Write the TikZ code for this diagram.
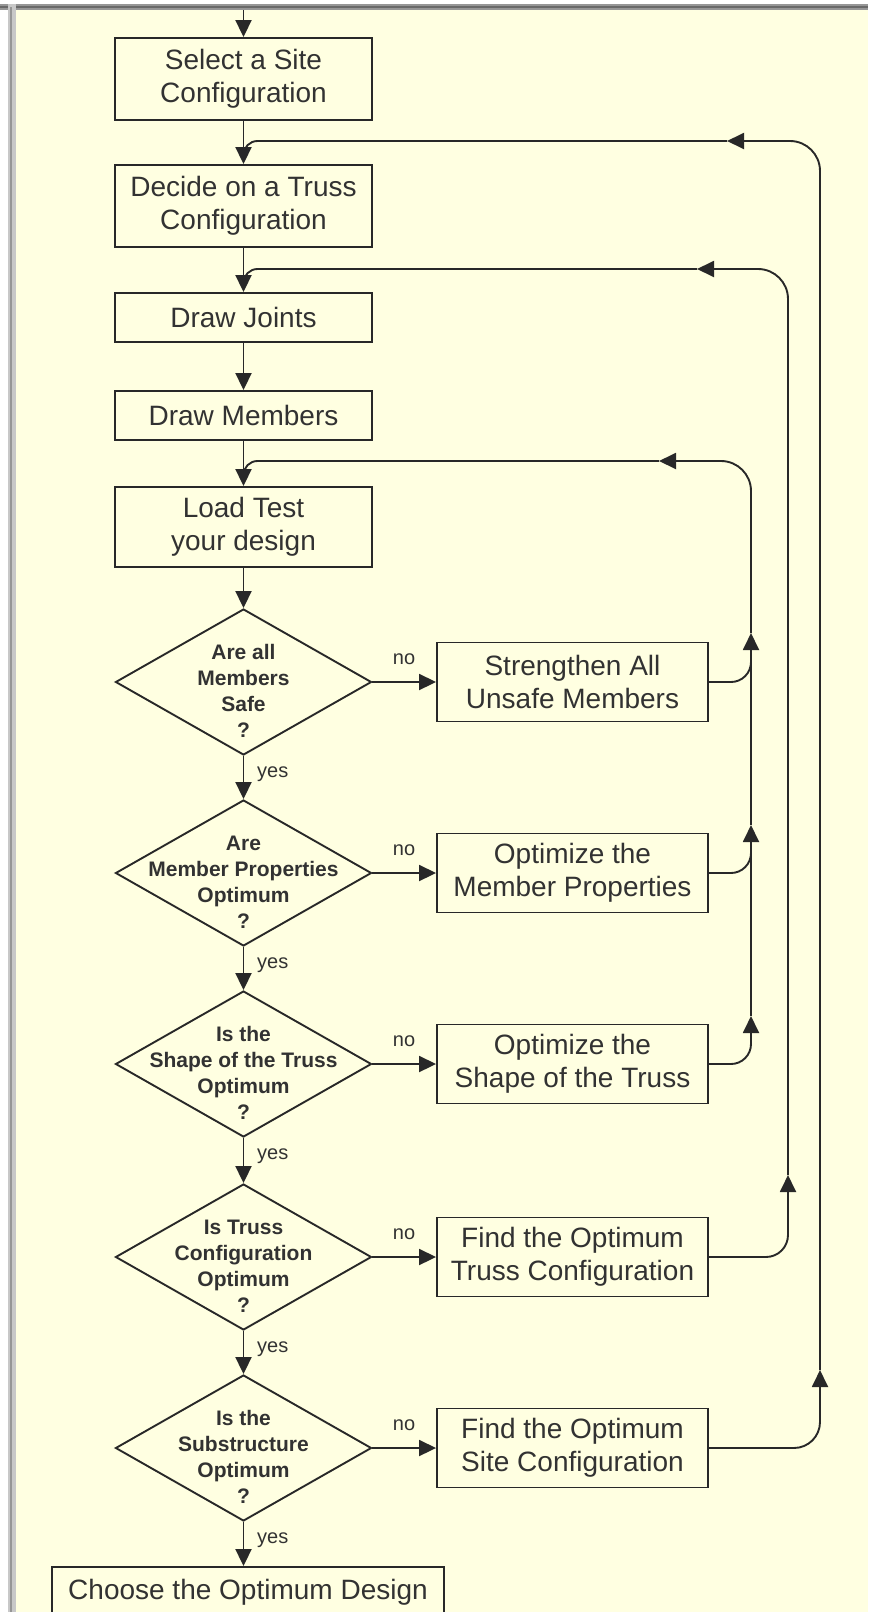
\documentclass[tikz,border=0pt]{standalone}
\usepackage{fontspec}
\setmainfont{Liberation Sans}
\usetikzlibrary{arrows.meta,shapes.geometric}
\definecolor{bg}{RGB}{255,255,225}
\definecolor{ink}{RGB}{40,40,40}
\definecolor{txt}{RGB}{50,50,50}
\definecolor{frameA}{RGB}{150,150,150}
\definecolor{frameB}{RGB}{105,105,105}
\definecolor{frameC}{RGB}{200,200,200}
\begin{document}
\begin{tikzpicture}[x=1pt,y=-1pt,
  ln/.style={draw=ink,line width=1.9pt},
  arr/.style={ln,-{Triangle[length=17pt,width=16pt]}},
  box/.style={draw=ink,line width=1.9pt,fill=bg,minimum width=257pt,inner sep=0pt,text=txt,align=center,font=\fontsize{28}{33}\selectfont},
  sbox/.style={box,minimum width=271pt,minimum height=79pt},
  dia/.style={diamond,draw=ink,line width=1.9pt,fill=bg,minimum width=256pt,minimum height=146pt,inner sep=0pt},
  dtxt/.style={align=center,text=txt,font=\bfseries\fontsize{21}{26}\selectfont,inner sep=0pt},
  lab/.style={text=txt,font=\fontsize{20}{24}\selectfont,inner sep=0pt}]
\useasboundingbox (0,0) rectangle (868,1612);
\clip (0,0) rectangle (868,1612);
\fill[white] (0,0) rectangle (868,1612);
\fill[bg] (16,10) rectangle (868,1612);
% frame
\fill[frameA] (0,4) rectangle (868,10);
\fill[frameB] (0,5.5) rectangle (868,7.5);
\fill[frameC] (8,4) rectangle (16,1612);
\fill[frameA] (10,7) rectangle (12,1612);

% main column
\coordinate (top) at (243.5,10);
\node[box,minimum height=82pt] (n1) at (243.5,79) {Select a Site\\Configuration};
\node[box,minimum height=82pt] (n2) at (243.5,206) {Decide on a Truss\\Configuration};
\node[box,minimum height=49pt] (n3) at (243.5,317.5) {Draw Joints};
\node[box,minimum height=49pt] (n4) at (243.5,415.5) {Draw Members};
\node[box,minimum height=80pt] (n5) at (243.5,527) {Load Test\\your design};

\node[dia] (d1) at (243.5,682) {};
\node[dtxt] (t1) at (243.5,691) {Are all\\Members\\Safe\\?};
\node[dia] (d2) at (243.5,873) {};
\node[dtxt] (t2) at (243.5,882) {Are\\Member Properties\\Optimum\\?};
\node[dia] (d3) at (243.5,1064) {};
\node[dtxt] (t3) at (243.5,1073) {Is the\\Shape of the Truss\\Optimum\\?};
\node[dia] (d4) at (243.5,1257) {};
\node[dtxt] (t4) at (243.5,1266) {Is Truss\\Configuration\\Optimum\\?};
\node[dia] (d5) at (243.5,1448) {};
\node[dtxt] (t5) at (243.5,1457) {Is the\\Substructure\\Optimum\\?};

\node[box,minimum width=392pt,minimum height=50pt] (fin) at (248,1592) {Choose the Optimum Design};

% right boxes
\node[sbox] (s1) at (572.5,682) {Strengthen All\\Unsafe Members};
\node[sbox] (s2) at (572.5,873) {Optimize the\\Member Properties};
\node[sbox] (s3) at (572.5,1064) {Optimize the\\Shape of the Truss};
\node[sbox] (s4) at (572.5,1257) {Find the Optimum\\Truss Configuration};
\node[sbox] (s5) at (572.5,1448) {Find the Optimum\\Site Configuration};

% main arrows
\draw[arr] (top) -- (n1.north);
\draw[arr] (n1) -- (n2);
\draw[arr] (n2) -- (n3);
\draw[arr] (n3) -- (n4);
\draw[arr] (n4) -- (n5);
\draw[arr] (n5) -- (d1.north);
\draw[arr] (d1.south) -- (d2.north);
\draw[arr] (d2.south) -- (d3.north);
\draw[arr] (d3.south) -- (d4.north);
\draw[arr] (d4.south) -- (d5.north);
\draw[arr] (d5.south) -- (d5.south |- fin.north);

% no arrows
\draw[arr] (d1.east) -- (s1.west);
\draw[arr] (d2.east) -- (s2.west);
\draw[arr] (d3.east) -- (s3.west);
\draw[arr] (d4.east) -- (s4.west);
\draw[arr] (d5.east) -- (s5.west);
\node[lab] (no1) at (404,659) {no};
\node[lab] (no2) at (404,850) {no};
\node[lab] (no3) at (404,1041) {no};
\node[lab] (no4) at (404,1234) {no};
\node[lab] (no5) at (404,1425) {no};
\node[lab,anchor=west] (y1) at (257,774) {yes};
\node[lab,anchor=west] (y2) at (257,965) {yes};
\node[lab,anchor=west] (y3) at (257,1156) {yes};
\node[lab,anchor=west] (y4) at (257,1349) {yes};
\node[lab,anchor=west] (y5) at (257,1540) {yes};

% feedback A
\coordinate (a3) at (751,1016);
\coordinate (a2) at (751,825);
\coordinate (a2b) at (751,845);
\coordinate (a1) at (751,633);
\coordinate (a1b) at (751,653);
\coordinate (aL) at (659,461);
\coordinate (aJ) at (243.5,476);
\draw[arr,rounded corners=20pt] (s3.east) -| (a3);
\draw[arr] (a3) -- (a2);
\draw[ln,rounded corners=20pt] (s2.east) -| (a2b);
\draw[arr] (a2) -- (a1);
\draw[ln,rounded corners=20pt] (s1.east) -| (a1b);
\draw[arr,rounded corners=30pt] (a1) |- (aL);
\draw[ln,rounded corners=14pt] (aL) -| (aJ);

% feedback B
\coordinate (bT) at (788,1175);
\coordinate (bL) at (697,269);
\coordinate (bJ) at (243.5,284);
\draw[arr,rounded corners=22pt] (s4.east) -| (bT);
\draw[arr,rounded corners=30pt] (bT) |- (bL);
\draw[ln,rounded corners=14pt] (bL) -| (bJ);

% feedback C
\coordinate (cT) at (820,1370);
\coordinate (cL) at (727,141);
\coordinate (cJ) at (243.5,156);
\draw[arr,rounded corners=26pt] (s5.east) -| (cT);
\draw[arr,rounded corners=30pt] (cT) |- (cL);
\draw[ln,rounded corners=14pt] (cL) -| (cJ);
\end{tikzpicture}
\end{document}
